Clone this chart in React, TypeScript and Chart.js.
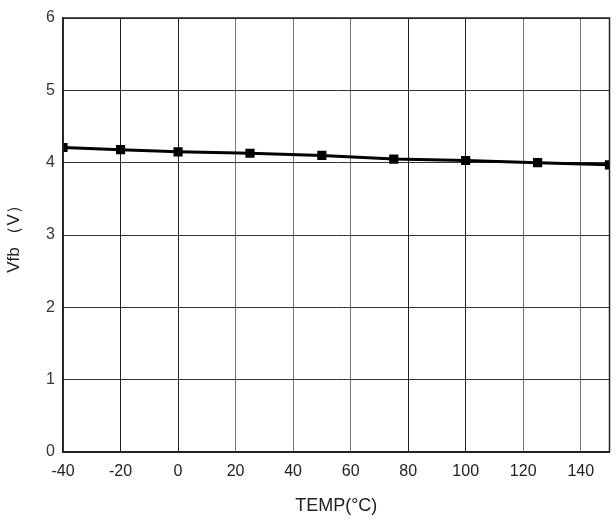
import React, { useEffect, useRef } from "react";
import { Chart, registerables } from "chart.js";

Chart.register(...registerables);

const temps = [-40, -20, 0, 25, 50, 75, 100, 125, 150];
const vfb = [4.21, 4.18, 4.15, 4.13, 4.1, 4.05, 4.03, 4.0, 3.97];
const xTicks = [-40, -20, 0, 20, 40, 60, 80, 100, 120, 140, 150];
const yTicks = [0, 1, 2, 3, 4, 5, 6];
const xTitle = "TEMP(°C)";
const yTitle = "Vfb （V）";

export default function App() {
  const ref = useRef<HTMLCanvasElement>(null);
  useEffect(() => {
    const ctx = ref.current!;
    const frame = {
      id: "frame",
      afterDraw(chart: any) {
        const { ctx: c, chartArea: a } = chart;
        c.save();
        c.strokeStyle = "#222";
        c.lineWidth = 1.5;
        c.strokeRect(a.left, a.top, a.right - a.left, a.bottom - a.top);
        c.restore();
      },
    };
    const darkX = [-20, 0, 80, 100];
    const chart = new Chart(ctx, {
      type: "line",
      data: {
        datasets: [
          {
            data: temps.map((t, i) => ({ x: t, y: vfb[i] })),
            borderColor: "#000",
            backgroundColor: "#000",
            borderWidth: 3,
            pointStyle: "rect",
            pointRadius: 6.5,
            pointBorderWidth: 0,
            tension: 0,
          },
        ],
      },
      options: {
        animation: false,
        responsive: false,
        layout: { padding: { top: 18, right: -3, left: 0, bottom: 4 } },
        plugins: { legend: { display: false }, tooltip: { enabled: false } },
        scales: {
          x: {
            type: "linear",
            min: -40,
            max: 150,
            afterBuildTicks: (s: any) => {
              s.ticks = xTicks.map((v) => ({ value: v }));
            },
            afterFit: (s: any) => {
              s.height = 69;
              s.paddingRight = 0;
              s.paddingLeft = 0;
            },
            grid: {
              color: (c: any) => (c.tick && darkX.includes(c.tick.value) ? "#222" : "#777"),
              lineWidth: 1,
              drawTicks: false,
            },
            border: { color: "#222", width: 1.5 },
            ticks: {
              padding: 10,
              color: "#222",
              autoSkip: false,
              maxRotation: 0,
              font: { family: "'Liberation Sans Narrow', 'Liberation Sans', Arial", size: 16 },
              callback: (v: any) => (v === 150 ? "" : String(v)),
            },
            title: {
              display: true,
              text: xTitle,
              color: "#222",
              padding: { top: 4 },
              font: { family: "'Liberation Sans Narrow', 'Liberation Sans', Arial", size: 18 },
            },
          },
          y: {
            type: "linear",
            min: 0,
            max: 6,
            afterBuildTicks: (s: any) => {
              s.ticks = yTicks.map((v) => ({ value: v }));
            },
            afterFit: (s: any) => {
              s.width = 63;
            },
            grid: { color: "#333", lineWidth: 1, drawTicks: false },
            border: { color: "#222", width: 1.5 },
            ticks: {
              padding: 8,
              color: "#334",
              font: { family: "'Liberation Sans', Arial", size: 16 },
            },
            title: {
              display: true,
              text: yTitle,
              color: "#222",
              padding: { bottom: 4 },
              font: { family: "'Liberation Sans', Arial", size: 17 },
            },
          },
        },
      },
      plugins: [frame],
    });
    return () => chart.destroy();
  }, []);
  return (
    <div style={{ position: "fixed", left: 0, top: 0, width: 616, height: 525, background: "#fff" }}>
      <canvas ref={ref} width={616} height={525} style={{ width: 616, height: 525 }} />
    </div>
  );
}
